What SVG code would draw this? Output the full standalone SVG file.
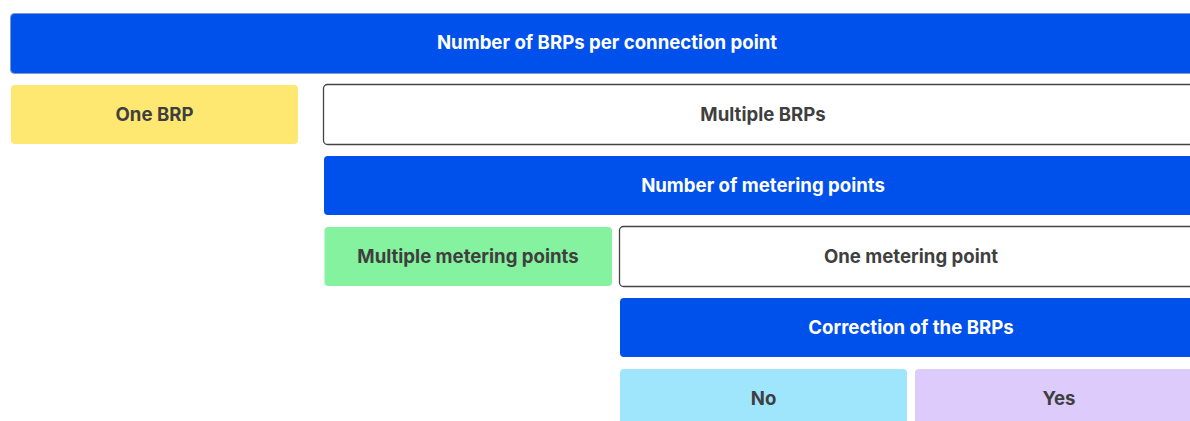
<svg xmlns="http://www.w3.org/2000/svg" width="1190" height="421" viewBox="0 0 1190 421">
<style>
.t{font-family:Inter,"Noto Sans","Liberation Sans",sans-serif;font-weight:700;font-size:18.6px;text-anchor:middle}
.w{fill:#ffffff}
.d{fill:#3f3f3f}
.blue{fill:#0051EC}
</style>
<rect width="1190" height="421" fill="#ffffff"/>
<g id="connectors"></g>
<g id="n-brps-per-cp">
<rect x="10.5" y="13.5" width="1195" height="60" rx="4" class="blue" stroke="#7d97c9" stroke-width="1"/>
<text x="607" y="49" class="t w">Number of BRPs per connection point</text>
</g>
<g id="n-one-brp">
<rect x="11" y="85" width="287" height="59" rx="4" fill="#FFE872"/>
<text x="154.5" y="120.5" class="t d">One BRP</text>
</g>
<g id="n-multiple-brps">
<rect x="323.5" y="84.5" width="880" height="60" rx="4" fill="#ffffff" stroke="#444444" stroke-width="1.3"/>
<text x="763" y="120.5" class="t d">Multiple BRPs</text>
</g>
<g id="n-num-metering">
<rect x="324" y="156" width="880" height="59" rx="4" class="blue"/>
<text x="763" y="191.5" class="t w">Number of metering points</text>
</g>
<g id="n-multiple-metering">
<rect x="324.5" y="227" width="287.5" height="59" rx="4" fill="#84F29E"/>
<text x="468" y="262.5" class="t d">Multiple metering points</text>
</g>
<g id="n-one-metering">
<rect x="619.5" y="226.5" width="584" height="60" rx="4" fill="#ffffff" stroke="#444444" stroke-width="1.3"/>
<text x="911" y="262.5" class="t d">One metering point</text>
</g>
<g id="n-correction">
<rect x="620" y="298" width="584" height="59" rx="4" class="blue"/>
<text x="911" y="333.5" class="t w">Correction of the BRPs</text>
</g>
<g id="n-no">
<rect x="620" y="369" width="287" height="60" rx="4" fill="#9FE6FC"/>
<text x="763.5" y="404.5" class="t d">No</text>
</g>
<g id="n-yes">
<rect x="915" y="369" width="289" height="60" rx="4" fill="#DCCBFB"/>
<text x="1059" y="404.5" class="t d">Yes</text>
</g>
</svg>
